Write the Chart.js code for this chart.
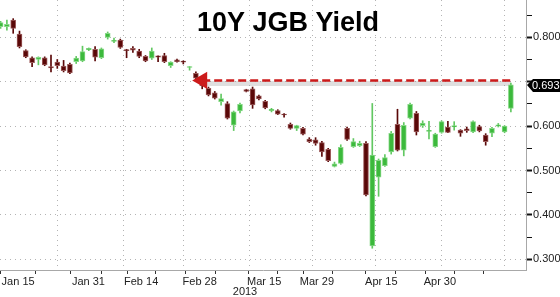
<!DOCTYPE html>
<html>
<head>
<meta charset="utf-8">
<script src="https://cdn.jsdelivr.net/npm/chart.js@4.4.0/dist/chart.umd.min.js"></script>
<style>
  html, body { margin: 0; padding: 0; background: #fff; }
  canvas { display: block; }
</style>
</head>
<body>
<canvas id="jgbChart" width="560" height="297"></canvas>
<script>
// trading days shown on the chart (2013)
const dates = ['Jan 9','Jan 10','Jan 11','Jan 15','Jan 16','Jan 17','Jan 18','Jan 21','Jan 22','Jan 23',
  'Jan 24','Jan 25','Jan 28','Jan 29','Jan 30','Jan 31','Feb 1','Feb 4','Feb 5','Feb 6',
  'Feb 7','Feb 8','Feb 12','Feb 13','Feb 14','Feb 15','Feb 18','Feb 19','Feb 20','Feb 21',
  'Feb 22','Feb 25','Feb 26','Feb 27','Feb 28','Mar 1','Mar 4','Mar 5','Mar 6','Mar 7',
  'Mar 8','Mar 11','Mar 12','Mar 13','Mar 14','Mar 15','Mar 18','Mar 19','Mar 21','Mar 22',
  'Mar 25','Mar 26','Mar 27','Mar 28','Mar 29','Apr 1','Apr 2','Apr 3','Apr 4','Apr 5',
  'Apr 8','Apr 9','Apr 10','Apr 11','Apr 12','Apr 15','Apr 16','Apr 17','Apr 18','Apr 19',
  'Apr 22','Apr 23','Apr 24','Apr 25','Apr 26','Apr 30','May 1','May 2','May 7','May 8',
  'May 9','May 10'];

const opens = [0.824,0.824,0.839,0.807,0.770,0.754,0.750,0.754,0.734,0.744,
  0.735,0.739,0.745,0.747,0.772,0.773,0.754,0.800,0.791,0.794,
  0.772,0.775,0.769,0.757,0.753,0.758,0.759,0.736,0.749,0.746,
  0.732,0.719,0.694,0.685,0.675,0.655,0.651,0.602,0.634,0.682,
  0.684,0.668,0.656,0.635,0.635,0.627,0.604,0.595,0.595,0.571,
  0.569,0.563,0.548,0.509,0.516,0.595,0.554,0.556,0.561,0.330,
  0.485,0.511,0.542,0.604,0.546,0.618,0.629,0.601,0.588,0.554,
  0.586,0.598,0.598,0.591,0.594,0.587,0.599,0.580,0.584,0.600,
  0.587,0.640];
const highs = [0.836,0.839,0.842,0.814,0.772,0.756,0.756,0.756,0.760,0.750,
  0.748,0.742,0.757,0.780,0.776,0.779,0.776,0.812,0.798,0.796,
  0.773,0.779,0.773,0.759,0.776,0.758,0.764,0.745,0.751,0.747,
  0.734,0.722,0.695,0.688,0.678,0.672,0.655,0.634,0.652,0.683,
  0.688,0.670,0.658,0.640,0.637,0.628,0.607,0.602,0.597,0.574,
  0.574,0.566,0.550,0.519,0.558,0.598,0.572,0.566,0.565,0.651,
  0.526,0.536,0.588,0.638,0.608,0.652,0.633,0.612,0.611,0.584,
  0.612,0.611,0.610,0.592,0.598,0.612,0.602,0.583,0.597,0.606,
  0.601,0.697];
const lows = [0.820,0.816,0.809,0.776,0.754,0.734,0.738,0.736,0.722,0.730,
  0.722,0.718,0.741,0.745,0.770,0.747,0.752,0.796,0.788,0.775,
  0.754,0.766,0.754,0.745,0.750,0.745,0.743,0.732,0.744,0.740,
  0.726,0.706,0.684,0.668,0.661,0.647,0.616,0.590,0.630,0.677,
  0.640,0.659,0.639,0.632,0.626,0.620,0.593,0.590,0.580,0.563,
  0.557,0.532,0.520,0.508,0.514,0.568,0.552,0.554,0.443,0.325,
  0.442,0.509,0.537,0.544,0.533,0.616,0.580,0.597,0.571,0.552,
  0.584,0.585,0.591,0.577,0.586,0.585,0.587,0.557,0.576,0.598,
  0.585,0.632];
const closes = [0.833,0.829,0.820,0.779,0.756,0.743,0.755,0.738,0.731,0.736,
  0.725,0.720,0.753,0.768,0.775,0.755,0.774,0.809,0.793,0.777,
  0.770,0.771,0.757,0.747,0.769,0.755,0.745,0.744,0.745,0.744,
  0.734,0.708,0.691,0.670,0.663,0.662,0.618,0.632,0.649,0.678,
  0.648,0.661,0.641,0.638,0.627,0.625,0.595,0.601,0.582,0.565,
  0.561,0.542,0.522,0.515,0.552,0.570,0.565,0.561,0.445,0.535,
  0.523,0.529,0.584,0.546,0.602,0.649,0.587,0.607,0.590,0.582,
  0.610,0.586,0.601,0.584,0.590,0.610,0.589,0.565,0.595,0.603,
  0.600,0.693];

const tickDates = ['Jan 15','Jan 31','Feb 14','Feb 28','Mar 15','Mar 29','Apr 15','Apr 30'];
const yTicks = [0.30,0.35,0.40,0.45,0.50,0.55,0.60,0.65,0.70,0.75,0.80,0.85];

// the red "back to Feb 26 level" arrow
const levelValue = 0.703;
const levelFrom = 'Feb 26';
const levelTo = 'May 10';

const UP = '#3cb93c', UP_EDGE = '#86d886', UP_WICK = '#62c862';
const DOWN = '#5a0808', DOWN_EDGE = '#9c5c5c', DOWN_WICK = '#5a0808';
const FONT = '"Liberation Sans", Arial, sans-serif';

const idx = dates.map((d, i) => i);
const isUp = idx.map(i => closes[i] >= opens[i]);
const tickIdx = tickDates.map(d => dates.indexOf(d));
const midIdx = tickIdx.map((t, k) => k < tickIdx.length - 1 ? (t + tickIdx[k + 1]) / 2 : t + (t - tickIdx[k - 1]) / 2);
const lastIdx = dates.length - 1;

// no extra padding from tick labels, the plot runs to the canvas edges
function noPad(s) {
  s.paddingTop = 0; s.paddingBottom = 0; s.paddingLeft = 0; s.paddingRight = 0;
}

const overlay = {
  id: 'overlay',
  afterDraw(chart) {
    const ctx = chart.ctx;
    const ys = chart.scales.y;
    ctx.save();
    ctx.fillStyle = '#000';
    ctx.font = 'bold 27px ' + FONT;
    ctx.textAlign = 'left';
    ctx.textBaseline = 'alphabetic';
    ctx.fillText('10Y JGB Yield', 197, 31);

    ctx.font = '11px ' + FONT;
    ctx.fillStyle = '#222';
    ctx.textAlign = 'center';
    ctx.fillText('2013', 245, 295);

    // last price tag
    const py = Math.round(ys.getPixelForValue(closes[lastIdx]));
    const x0 = ys.left + 1;
    ctx.fillStyle = '#000';
    ctx.beginPath();
    ctx.moveTo(x0, py);
    ctx.lineTo(x0 + 6, py - 6);
    ctx.lineTo(560, py - 6);
    ctx.lineTo(560, py + 7);
    ctx.lineTo(x0 + 6, py + 7);
    ctx.closePath();
    ctx.fill();
    ctx.fillStyle = '#fff';
    ctx.textAlign = 'left';
    ctx.textBaseline = 'middle';
    ctx.fillText(closes[lastIdx].toFixed(3), x0 + 5, py + 1);
    ctx.restore();
  }
};

const ctx = document.getElementById('jgbChart').getContext('2d');
const jgbChart = new Chart(ctx, {
  type: 'bar',
  data: {
    datasets: [{
      type: 'line',
      data: [{ x: dates.indexOf(levelFrom), y: levelValue }, { x: dates.indexOf(levelTo), y: levelValue }],
      borderColor: '#cc1a1a',
      borderWidth: 2.5,
      borderDash: [8, 4],
      pointRadius: 0,
      order: 0
    }, {
      type: 'line',
      data: [{ x: dates.indexOf(levelFrom), y: levelValue }],
      showLine: false,
      pointStyle: 'triangle',
      rotation: -90,
      pointRadius: 10,
      backgroundColor: '#cc1a1a',
      borderColor: '#cc1a1a',
      borderWidth: 0,
      order: 0
    }, {
      type: 'line',
      data: [{ x: dates.indexOf(levelFrom), y: levelValue - 0.007 }, { x: dates.indexOf(levelTo), y: levelValue - 0.007 }],
      borderColor: 'rgba(150,150,150,0.3)',
      borderWidth: 5,
      pointRadius: 0,
      order: 5
    }, {
      // candle bodies
      data: idx.map(i => ({ x: i, y: [opens[i], closes[i]] })),
      backgroundColor: isUp.map(u => u ? UP : DOWN),
      borderColor: isUp.map(u => u ? UP_EDGE : DOWN_EDGE),
      borderWidth: 1,
      borderSkipped: false,
      barThickness: 5,
      minBarLength: 1,
      grouped: false,
      order: 1
    }, {
      // wicks
      data: idx.map(i => ({ x: i, y: [lows[i], highs[i]] })),
      backgroundColor: isUp.map(u => u ? UP_WICK : DOWN_WICK),
      borderWidth: 0,
      barThickness: 1,
      grouped: false,
      order: 2
    }]
  },
  options: {
    responsive: false,
    animation: false,
    layout: { padding: 0, autoPadding: false },
    plugins: { legend: { display: false }, tooltip: { enabled: false } },
    scales: {
      x: {
        type: 'linear',
        position: 'bottom',
        weight: 0,
        offset: false,
        min: -0.095,
        max: 83.4,
        afterBuildTicks: s => { s.ticks = tickIdx.map(v => ({ value: v })); },
        afterFit: s => { s.height = 0; noPad(s); },
        ticks: { display: false },
        grid: { color: '#b4b4b4', drawTicks: false, lineWidth: 1 },
        border: { color: '#a8a8a8', dash: [1, 4] }
      },
      xl: {
        type: 'linear',
        position: 'bottom',
        weight: 1,
        offset: false,
        min: -0.095,
        max: 89.7,
        afterBuildTicks: s => {
          s.ticks = tickIdx.concat(midIdx).sort((a, b) => a - b).map(v => ({ value: v }));
        },
        afterFit: s => { s.height = 27; noPad(s); },
        ticks: {
          autoSkip: false,
          maxRotation: 0,
          padding: 1,
          color: '#222',
          font: { family: FONT, size: 11 },
          callback: v => { const k = tickIdx.indexOf(v); return k >= 0 ? tickDates[k] : ''; }
        },
        grid: { drawOnChartArea: false, tickLength: 4, tickColor: '#333' },
        border: { display: false }
      },
      y: {
        position: 'right',
        min: 0.276,
        max: 0.884,
        afterBuildTicks: s => { s.ticks = yTicks.map(v => ({ value: v })); },
        afterFit: s => { s.width = 34; noPad(s); },
        ticks: {
          padding: 1,
          color: '#222',
          font: { family: FONT, size: 11 },
          callback: v => {
            const major = Math.round(v * 100) % 10 === 0;
            // 0.700 sits under the last price tag
            if (!major || Math.abs(v - 0.7) < 0.001) return '';
            return v.toFixed(3);
          }
        },
        grid: {
          color: c => Math.round(c.tick.value * 100) % 10 === 0 ? '#b4b4b4' : 'rgba(0,0,0,0)',
          tickColor: '#111',
          tickLength: 6,
          tickWidth: c => Math.round(c.tick.value * 100) % 10 === 0 ? 2 : 1
        },
        border: { color: '#a8a8a8', dash: [1, 4] }
      }
    }
  },
  plugins: [overlay]
});
</script>
</body>
</html>
